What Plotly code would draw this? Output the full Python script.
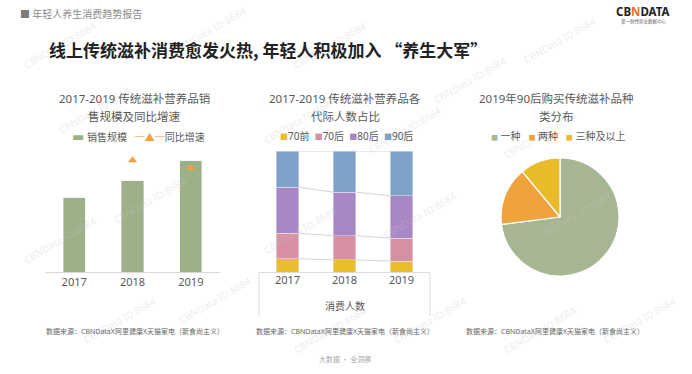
import plotly.graph_objects as go

# ---------------- data ----------------
years = ['2017', '2018', '2019']
sales = [67, 82, 100]            # 销售规模 (relative)
growth = [None, 23.1, 21.5]      # 同比增速 (%)

generations = ['70前', '70后', '80后', '90后']
share_70q = [11, 10, 9]
share_70h = [21, 20, 19]
share_80h = [38, 36, 35]
share_90h = [30, 34, 37]

pie_labels = ['一种', '两种', '三种及以上']
pie_values = [73, 16, 11]

# ---------------- styles ----------------
W, H = 692, 374
FONT = 'Noto Sans, Noto Sans CJK SC, DejaVu Sans, sans-serif'
CJK = 'Noto Sans CJK SC, sans-serif'
GREEN = '#9db088'
ORANGE = '#f0a03c'
GEN_COLORS = ['#e9bd2c', '#d690a1', '#a787c4', '#7fa2c9']
PIE_COLORS = ['#a6b692', '#f0a23e', '#e8bb2a']
TXT = '#595959'


def px(x):
    return x / W


def py(y):
    return 1 - y / H


fig = go.Figure()

# ---- left chart: sales bars + growth markers ----
fig.add_trace(go.Bar(x=years, y=sales, marker_color=GREEN, name='销售规模',
                     xaxis='x', yaxis='y', showlegend=False))
fig.add_trace(go.Scatter(x=years, y=growth, mode='markers', name='同比增速',
                         marker=dict(symbol='triangle-up', size=8, color=ORANGE),
                         xaxis='x', yaxis='y2', showlegend=False))

# ---- middle chart: 100% stacked bars with series lines ----
series = [share_70q, share_70h, share_80h, share_90h]
xs = list(range(len(years)))
bw = 0.4
cum = [0] * len(years)
for name, vals, col in zip(generations, series, GEN_COLORS):
    cum = [c + v for c, v in zip(cum, vals)]
    lx, ly = [], []
    for i in range(len(years) - 1):
        lx += [xs[i] + bw / 2, xs[i + 1] - bw / 2, None]
        ly += [cum[i], cum[i + 1], None]
    fig.add_trace(go.Scatter(x=lx, y=ly, mode='lines', line=dict(color='#c8c8c8', width=0.8),
                             xaxis='x2', yaxis='y3', showlegend=False, hoverinfo='skip'))
for name, vals, col in zip(generations, series, GEN_COLORS):
    fig.add_trace(go.Bar(x=xs, y=vals, width=bw, marker_color=col, name=name,
                         xaxis='x2', yaxis='y3', showlegend=False))

# ---- right chart: pie ----
fig.add_trace(go.Pie(labels=pie_labels, values=pie_values, sort=False, direction='clockwise',
                     rotation=0, marker=dict(colors=PIE_COLORS, line=dict(color='white', width=1.2)),
                     textinfo='none', showlegend=False,
                     domain=dict(x=[px(501), px(619)], y=[py(276), py(158)])))

fig.update_layout(
    width=W, height=H, margin=dict(l=0, r=0, t=0, b=0),
    paper_bgcolor='white', plot_bgcolor='rgba(0,0,0,0)',
    barmode='stack', bargap=0.62,
    font=dict(family=FONT, color=TXT),
    xaxis=dict(domain=[px(45), px(220)], type='category', showline=True, linecolor='#d9d9d9',
               linewidth=1, ticks='', showgrid=False, tickfont=dict(size=11, color=TXT),
               anchor='y', fixedrange=True),
    yaxis=dict(domain=[py(272), py(151)], range=[0, 109], visible=False, fixedrange=True),
    yaxis2=dict(overlaying='y', range=[0, 25], visible=False, anchor='x'),
    xaxis2=dict(domain=[px(259), px(430)], range=[-0.5, 2.5], tickvals=xs, ticktext=years,
                showline=False, showgrid=False, zeroline=False, ticks='',
                tickfont=dict(size=11, color=TXT), anchor='y3'),
    yaxis3=dict(domain=[py(272), py(151)], range=[0, 100], visible=False, anchor='x2'),
)

# box under middle chart
box_c = '#dcdcdc'
fig.add_shape(type='line', xref='paper', yref='paper', x0=px(259), x1=px(430), y0=py(272.5), y1=py(272.5),
              line=dict(color=box_c, width=1))
fig.add_shape(type='line', xref='paper', yref='paper', x0=px(259), x1=px(259), y0=py(272.5), y1=py(316),
              line=dict(color=box_c, width=1))
fig.add_shape(type='line', xref='paper', yref='paper', x0=px(430), x1=px(430), y0=py(272.5), y1=py(316),
              line=dict(color=box_c, width=1))

ann = []


def text(x, y, s, size, color=TXT, xanchor='center', angle=0, family=FONT):
    ann.append(dict(x=px(x), y=py(y), xref='paper', yref='paper', text=s, showarrow=False,
                    xanchor=xanchor, yanchor='middle', textangle=angle,
                    font=dict(size=size, color=color, family=family)))


# watermarks
for (wx, wy) in [(60, 45), (210, 30), (330, 45), (560, 40), (470, 80), (95, 110), (300, 120),
                 (405, 130), (540, 135), (150, 200), (60, 240), (300, 230), (420, 215), (575, 215),
                 (215, 300), (120, 320), (430, 320), (330, 330), (640, 320), (540, 330)]:
    text(wx, wy, 'CBNData ID:8684', 10, color='rgba(200,200,200,0.35)', angle=-30)

# header
text(18, 13, '<span style="color:#7a7a7a">■</span> 年轻人养生消费趋势报告', 10, color='#8a8a8a',
     xanchor='left', family=CJK)
text(643, 11, '<b>CB<span style="color:#e8702a">N</span>DATA</b>', 11.5, color='#222222')
text(643, 21, '第一财经商业数据中心', 4.5, color='#666666', family=CJK)
text(47, 50, '<b>线上传统滋补消费愈发火热, 年轻人积极加入 “养生大军”</b>', 17, color='#222222',
     xanchor='left', family=CJK)

# chart titles
text(134, 99, '2017-2019 传统滋补营养品销', 11.5)
text(134, 117, '售规模及同比增速', 11.5)
text(345, 99, '2017-2019 传统滋补营养品各', 11.5)
text(345, 117, '代际人数占比', 11.5)
text(556, 99, '2019年90后购买传统滋补品种', 11.5)
text(556, 117, '类分布', 11.5)

# legends
text(138, 136, f'<span style="color:{GREEN};font-size:13px">▬</span> {"销售规模"}   '
               f'<span style="color:{ORANGE}">─▲─</span>{"同比增速"}', 10)
leg2 = '  '.join(f'<span style="color:{c};font-size:8px">■</span>{g}'
                 for g, c in zip(generations, GEN_COLORS))
text(346, 136, leg2, 10)
leg3 = '   '.join(f'<span style="color:{c};font-size:7px">■</span> {l}'
                   for l, c in zip(pie_labels, PIE_COLORS))
text(558, 136, leg3, 10)

# footer texts
text(345, 306, '消费人数', 10)
src = '数据来源：CBNDataX阿里健康X天猫家电（新食尚主义）'
for cx in (135, 345, 555):
    text(cx, 331, src, 7, color='#666666')
text(345, 359, '大数据 · 全洞察', 7, color='#aaaaaa', family=CJK)

fig.update_layout(annotations=ann)
fig.write_html('out.html', config={'displayModeBar': False},
               post_script="document.body.style.margin='0';document.body.style.padding='0';"
                           "document.documentElement.style.overflow='hidden';")
